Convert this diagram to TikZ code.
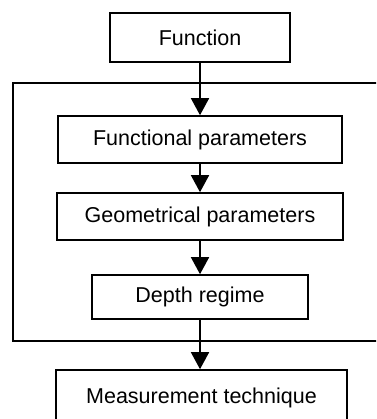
\documentclass[tikz,border=0pt]{standalone}
\usepackage{fontspec}
\setmainfont{Liberation Sans}
\usetikzlibrary{arrows.meta}
\begin{document}
\begin{tikzpicture}[x=1pt,y=-1pt,
  box/.style={draw,line width=1.6pt,inner sep=0pt,font=\fontsize{21.5}{26}\selectfont},
  conn/.style={line width=1.6pt,-{Triangle[length=17pt,width=18pt]}}]
\useasboundingbox (0,0) rectangle (376,419);
\clip (0,0) rectangle (376,419);
\fill[white] (0,0) rectangle (376,419);
\draw[line width=1.6pt] (430,83) -- (13,83) -- (13,341) -- (430,341);
\node[box,minimum width=180pt,minimum height=49pt] (f) at (200,37.5) {Function};
\node[box,minimum width=284pt,minimum height=47pt] (fp) at (200,139.5) {Functional parameters};
\node[box,minimum width=286pt,minimum height=47pt] (gp) at (200,216.5) {Geometrical parameters};
\node[box,minimum width=216pt,minimum height=44pt] (dr) at (200,297) {Depth regime};
\node[box,minimum width=291pt,minimum height=56pt] (mt) at (201.5,398) {Measurement technique};
\draw[conn] (f.south) -- (fp.north);
\draw[conn] (fp.south) -- (gp.north);
\draw[conn] (gp.south) -- (dr.north);
\draw[conn] (dr.south) -- (dr.south |- mt.north);
\end{tikzpicture}
\end{document}
